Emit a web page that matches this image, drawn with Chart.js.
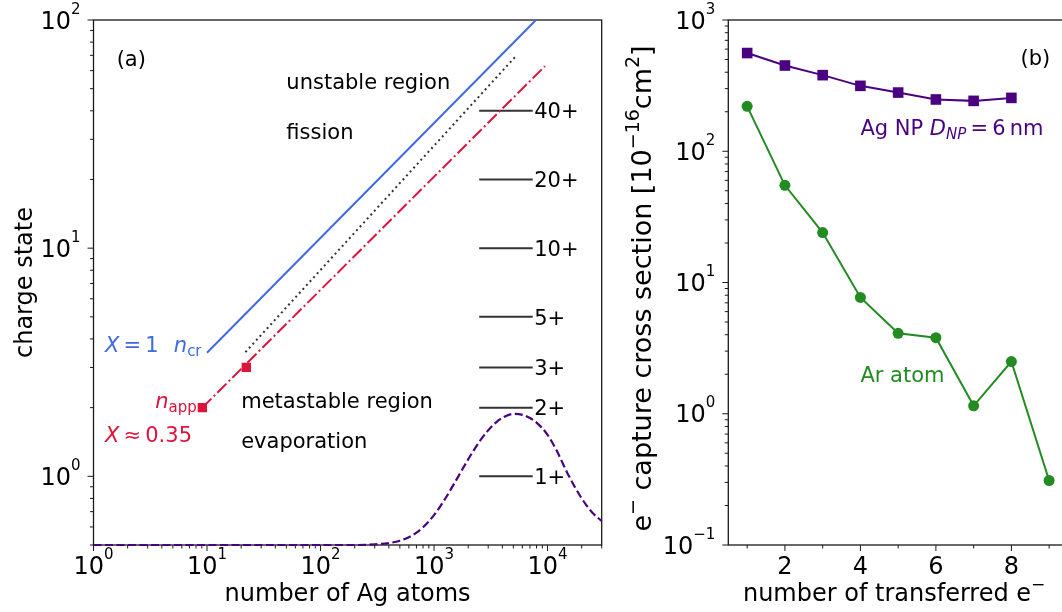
<!DOCTYPE html>
<html>
<head>
<meta charset="utf-8">
<script src="https://cdn.jsdelivr.net/npm/chart.js@4.4.0/dist/chart.umd.min.js"></script>
<style>
  html, body { margin: 0; padding: 0; background: #fff; overflow: hidden; width: 1062px; height: 612px; }
  #chartA { position: absolute; left: 0; top: 0; }
  #chartB { position: absolute; left: 620px; top: 0; }
</style>
</head>
<body>
<canvas id="chartA" width="620" height="612"></canvas>
<canvas id="chartB" width="460" height="612"></canvas>
<script>
// ---- (a) charge state vs number of Ag atoms ----
const critN = [10, 7900];          // X = 1, n_cr
const critQ = [3.48, 100];
const dotN = [21.8, 5200];
const dotQ = [3.5, 69];
const appN = [9.1, 9500];          // X ~ 0.35, n_app
const appQ = [2.0, 62.8];
const appMarkN = [9.1, 22.2];
const appMarkQ = [2, 3];
const sizeN = [1, 100, 200, 300, 400, 500, 600, 700, 800, 1000, 1200, 1500, 2000, 2500, 3000, 3500, 4000, 5000,
               6000, 7000, 8000, 10000, 12000, 15000, 20000, 25000, 30000];
const sizeQ = [0.5, 0.5, 0.5, 0.503, 0.51, 0.522, 0.541, 0.566, 0.598, 0.676, 0.77, 0.927, 1.187, 1.415, 1.59, 1.72, 1.806, 1.878,
               1.86, 1.8, 1.72, 1.52, 1.3, 1.03, 0.8, 0.69, 0.637];
const levels = [1, 2, 3, 5, 10, 20, 40];
const levelLabels = ['1+', '2+', '3+', '5+', '10+', '20+', '40+'];
const levelSpan = [2500, 7400];
const aXTicks = [1, 10, 100, 1000, 10000];
const aXExp = ['0', '1', '2', '3', '4'];
const aYTicks = [1, 10, 100];
const aYExp = ['0', '1', '2'];

// ---- (b) e- capture cross section ----
const transferred = [1, 2, 3, 4, 5, 6, 7, 8, 9];
const agNP = [560, 450, 380, 315, 280, 248, 242, 255];
const arAtom = [220, 55, 24, 7.7, 4.1, 3.8, 1.15, 2.5, 0.31];
const bXTicks = [2, 4, 6, 8];
const bXMinor = [1, 3, 5, 7, 9];
const bYTicks = [0.1, 1, 10, 100, 1000];
const bYExp = ['\u22121', '0', '1', '2', '3'];

const FONT = "'DejaVu Sans', sans-serif";
const BLUE = '#4169E1', RED = '#DC143C', INDIGO = '#4B0082', GREEN = '#228B22';

function fnt(s, it) { return (it ? 'italic ' : '') + s + 'px ' + FONT; }

// draw a run of text pieces (for sub/superscripts)
function rich(ctx, parts, x, y, align) {
  let w = 0;
  parts.forEach(p => { ctx.font = fnt(p.s || 21, p.i); w += ctx.measureText(p.t).width; });
  let cx = align === 'center' ? x - w / 2 : align === 'right' ? x - w : x;
  ctx.textAlign = 'left';
  ctx.textBaseline = 'alphabetic';
  parts.forEach(p => {
    ctx.font = fnt(p.s || 21, p.i);
    ctx.fillText(p.t, cx, y + (p.dy || 0));
    cx += ctx.measureText(p.t).width;
  });
}

function pow10(e) { return [{ t: '10', s: 24 }, { t: e, s: 15, dy: -15 }]; }

function logMinors(lo, hi) {
  const out = [];
  for (let e = Math.floor(Math.log10(lo)); e <= Math.ceil(Math.log10(hi)); e++) {
    for (let m = 2; m <= 9; m++) {
      const v = m * Math.pow(10, e);
      if (v >= lo * 0.999 && v <= hi * 1.001) out.push(v);
    }
  }
  return out;
}

const pts = (xs, ys) => xs.map((x, i) => ({ x: x, y: ys[i] }));

const decor = {
  id: 'decor',
  beforeDatasetsDraw(chart, args, o) {
    const ctx = chart.ctx, a = chart.chartArea, sx = chart.scales.x, sy = chart.scales.y;
    ctx.save();
    ctx.strokeStyle = '#1a1a1a';
    ctx.lineWidth = 1;
    ctx.beginPath();
    o.xMajor.forEach(v => { const p = sx.getPixelForValue(v); ctx.moveTo(p, a.bottom); ctx.lineTo(p, a.bottom + 6); });
    o.xMinor.forEach(v => { const p = sx.getPixelForValue(v); ctx.moveTo(p, a.bottom); ctx.lineTo(p, a.bottom + 3.5); });
    o.yMajor.forEach(v => { const p = sy.getPixelForValue(v); ctx.moveTo(a.left, p); ctx.lineTo(a.left - 6, p); });
    o.yMinor.forEach(v => { const p = sy.getPixelForValue(v); ctx.moveTo(a.left, p); ctx.lineTo(a.left - 3.5, p); });
    ctx.stroke();
    ctx.lineWidth = 1.3;
    ctx.strokeRect(a.left, a.top, a.right - a.left, a.bottom - a.top);
    ctx.restore();
  },
  afterDatasetsDraw(chart, args, o) {
    const ctx = chart.ctx, a = chart.chartArea, sx = chart.scales.x, sy = chart.scales.y;
    ctx.save();
    ctx.fillStyle = '#000';
    o.xMajor.forEach((v, i) => rich(ctx, o.xLabels[i], sx.getPixelForValue(v), a.bottom + 29, 'center'));
    o.yMajor.forEach((v, i) => rich(ctx, o.yLabels[i], a.left - 13, sy.getPixelForValue(v) + 8.5, 'right'));
    o.texts.forEach(tx => {
      ctx.fillStyle = tx.c || '#000';
      rich(ctx, tx.parts, sx.getPixelForValue(tx.x), sy.getPixelForValue(tx.y) + (tx.dy || 0), tx.align || 'left');
    });
    ctx.fillStyle = '#000';
    rich(ctx, o.xTitle, (a.left + a.right) / 2 + (o.xTitleShift || 0), 601, 'center');
    ctx.translate(o.yTitleX, (a.top + a.bottom) / 2 + (o.yTitleShift || 0));
    ctx.rotate(-Math.PI / 2);
    rich(ctx, o.yTitle, 0, 0, 'center');
    ctx.restore();
  }
};

function lineSet(xs, ys, color, dash, width) {
  return { data: pts(xs, ys), showLine: true, borderColor: color, borderWidth: width || 2,
           borderDash: dash || [], pointRadius: 0, fill: false, clip: false };
}

// ---- chart (a) ----
const sizeSet = lineSet(sizeN, sizeQ, INDIGO, [8, 3.5], 2.2);
sizeSet.cubicInterpolationMode = 'monotone';
const setsA = [
  sizeSet,
  lineSet(critN, critQ, BLUE, [], 2),
  lineSet(dotN, dotQ, '#333', [2, 3.3], 2),
  lineSet(appN, appQ, RED, [12.8, 3.2, 2, 3.2], 2)
];
levels.forEach(q => setsA.push(lineSet(levelSpan, [q, q], '#333', [], 2)));
setsA.push({ data: pts(appMarkN, appMarkQ), showLine: false, pointStyle: 'rect',
             pointRadius: 6.6, pointBackgroundColor: RED, pointBorderColor: RED, pointBorderWidth: 0 });

const textsA = [
  { x: 1.6, y: 63, parts: [{ t: '(a)' }] },
  { x: 50, y: 50, parts: [{ t: 'unstable region' }] },
  { x: 50, y: 30, parts: [{ t: 'fission' }] },
  { x: 20, y: 2.0, parts: [{ t: 'metastable region' }] },
  { x: 20, y: 1.33, parts: [{ t: 'evaporation' }] },
  { x: 1.26, y: 3.5, c: BLUE, parts: [{ t: 'X', i: true }, { t: '\u2009=\u20091' }] },
  { x: 5.1, y: 3.5, c: BLUE, parts: [{ t: 'n', i: true }, { t: 'cr', s: 15, dy: 4 }] },
  { x: 3.5, y: 2.0, c: RED, parts: [{ t: 'n', i: true }, { t: 'app', s: 15, dy: 4 }] },
  { x: 1.26, y: 1.41, c: RED, parts: [{ t: 'X', i: true }, { t: '\u2009\u2248\u20090.35' }] }
];
levels.forEach((q, i) => textsA.push({ x: levelSpan[1] * 1.03, y: q, dy: 7.7, parts: [{ t: levelLabels[i] }] }));

new Chart(document.getElementById('chartA'), {
  type: 'scatter',
  data: { datasets: setsA },
  options: {
    responsive: false,
    animation: false,
    layout: { padding: { left: 93.5, right: 18.3, top: 20, bottom: 67 } },
    scales: {
      x: { type: 'logarithmic', min: 1, max: 30000, display: false },
      y: { type: 'logarithmic', min: 0.5, max: 100, display: false }
    },
    plugins: {
      legend: { display: false },
      tooltip: { enabled: false },
      decor: {
        xMajor: aXTicks, xMinor: logMinors(1, 30000),
        yMajor: aYTicks, yMinor: logMinors(0.5, 100),
        xLabels: aXExp.map(pow10), yLabels: aYExp.map(pow10),
        texts: textsA,
        xTitle: [{ t: 'number of Ag atoms', s: 24 }],
        yTitle: [{ t: 'charge state', s: 24 }],
        yTitleX: 32
      }
    }
  },
  plugins: [decor]
});

// ---- chart (b) ----
const setsB = [
  { data: pts(transferred, agNP), showLine: true, borderColor: INDIGO, borderWidth: 2, pointStyle: 'rect',
    pointRadius: 7.5, pointBackgroundColor: INDIGO, pointBorderColor: INDIGO, pointBorderWidth: 0, fill: false, clip: false },
  { data: pts(transferred, arAtom), showLine: true, borderColor: GREEN, borderWidth: 2, pointStyle: 'circle',
    pointRadius: 5.5, pointBackgroundColor: GREEN, pointBorderColor: GREEN, pointBorderWidth: 0, fill: false, clip: false }
];

const textsB = [
  { x: 8.24, y: 454, parts: [{ t: '(b)' }] },
  { x: 4, y: 133, c: INDIGO, parts: [{ t: 'Ag NP ' }, { t: 'D', i: true }, { t: 'NP', s: 15, i: true, dy: 4 },
    { t: '\u2009=\u20096\u2009nm' }] },
  { x: 4, y: 1.75, c: GREEN, parts: [{ t: 'Ar atom' }] }
];

new Chart(document.getElementById('chartB'), {
  type: 'scatter',
  data: { datasets: setsB },
  options: {
    responsive: false,
    animation: false,
    layout: { padding: { left: 108.3, right: 12, top: 20, bottom: 67 } },
    scales: {
      x: { type: 'linear', min: 0.5, max: 9.5, display: false },
      y: { type: 'logarithmic', min: 0.1, max: 1000, display: false }
    },
    plugins: {
      legend: { display: false },
      tooltip: { enabled: false },
      decor: {
        xMajor: bXTicks, xMinor: bXMinor,
        yMajor: bYTicks, yMinor: logMinors(0.1, 1000),
        xLabels: bXTicks.map(v => [{ t: String(v), s: 24 }]), yLabels: bYExp.map(pow10),
        texts: textsB,
        xTitle: [{ t: 'number of transferred e', s: 24 }, { t: '\u2212', s: 17, dy: -11 }],
        xTitleShift: -4,
        yTitle: [{ t: 'e', s: 27 }, { t: '\u2212', s: 19, dy: -12 }, { t: ' capture cross section [10', s: 27 },
                 { t: '\u221216', s: 19, dy: -12 }, { t: 'cm', s: 27 }, { t: '2', s: 19, dy: -12 }, { t: ']', s: 27 }],
        yTitleX: 31,
        yTitleShift: 6
      }
    }
  },
  plugins: [decor]
});
</script>
</body>
</html>
